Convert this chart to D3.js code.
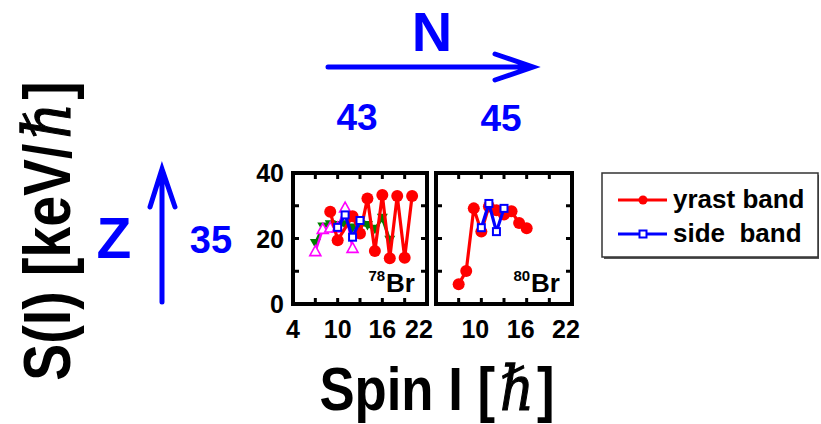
<!DOCTYPE html>
<html><head><meta charset="utf-8">
<script src="https://cdn.jsdelivr.net/npm/d3@7"></script>
<style>body{margin:0;background:#fff}svg{display:block}</style>
</head><body>
<svg id="c" width="821" height="424"></svg>
<script>
// ---- data ----
const xTicksMinor = [7, 10, 13, 16, 19];
const yTicksMinor = [10, 20, 30];
const yTickLabels = [0, 20, 40];
const xTickLabelsLeft = [4, 10, 16, 22];
const xTickLabelsRight = [10, 16, 22];

// 78Br
const br78YrastSpin = [9, 10, 12, 13, 14, 15, 16, 17, 18, 19, 20];
const br78YrastS    = [28.2, 19.5, 26.8, 21.5, 32.2, 16.2, 33.3, 14.0, 33.0, 14.1, 33.0];
const br78SideSpin  = [10, 11, 12, 13];
const br78SideS     = [23.4, 27.2, 20.4, 25.5];
const br78MagSpin   = [7, 8, 9, 10, 11, 12];
const br78MagS      = [16.0, 22.8, 23.2, 23.2, 29.3, 17.0];
const br78GreenSpin = [7, 8, 9, 10, 11, 12, 13, 14, 15, 16, 17];
const br78GreenS    = [18.5, 23.5, 24.2, 24.0, 24.2, 23.2, 24.3, 24.0, 22.8, 26.2, 19.5];

// 80Br
const br80YrastSpin = [7, 8, 9, 10, 11, 12, 13, 14, 15, 16];
const br80YrastS    = [6.0, 10.1, 29.2, 22.1, 29.8, 28.6, 27.3, 28.3, 24.7, 23.1];
const br80SideSpin  = [10, 11, 12, 13];
const br80SideS     = [23.3, 30.7, 22.1, 29.2];

const legendLabels = ["yrast band", "side  band"];

// ---- layout ----
const svg = d3.select("#c");
const y = d3.scaleLinear().domain([0, 40]).range([304, 173]);
const xL = d3.scaleLinear().domain([4, 22]).range([293, 427]);
const xR = d3.scaleLinear().domain([4, 22]).range([436, 572]);
const FONT = "'Liberation Sans', Arial, Helvetica, sans-serif";
const SERIF = "'DejaVu Serif', 'Liberation Serif', serif";

function line(x, xs, ys) {
  return d3.line().x(d => x(d[0])).y(d => y(d[1]))(d3.zip(xs, ys));
}

function panel(x, series, label) {
  const g = svg.append("g");
  const [x0, x1] = x.range(), [y0, y1] = y.range();
  const data = g.append("g");
  series.forEach(s => {
    data.append("path").attr("d", line(x, s.xs, s.ys))
      .attr("fill", "none").attr("stroke", s.color).attr("stroke-width", s.lw)
      .attr("stroke-linejoin", "round");
    const pts = d3.zip(s.xs, s.ys);
    const m = data.append("g").selectAll("g").data(pts).join("g")
      .attr("transform", d => `translate(${x(d[0])},${y(d[1])})`);
    if (s.marker === "circle") {
      m.append("circle").attr("r", 6).attr("fill", s.color);
    } else if (s.marker === "square") {
      m.append("rect").attr("x", -3.5).attr("y", -3.5).attr("width", 7).attr("height", 7)
        .attr("fill", "#fff").attr("stroke", s.color).attr("stroke-width", 2);
    } else if (s.marker === "triUp") {
      m.append("path").attr("d", "M0,-6L5.5,4L-5.5,4Z")
        .attr("fill", "#fff").attr("stroke", s.color).attr("stroke-width", 1.6);
    } else if (s.marker === "triDown") {
      m.append("path").attr("d", "M0,5L5.5,-4.5L-5.5,-4.5Z").attr("fill", s.color);
    }
  });
  const tk = g.append("g").attr("stroke", "#000").attr("stroke-width", 3);
  xTicksMinor.forEach(v => {
    tk.append("line").attr("x1", x(v)).attr("x2", x(v)).attr("y1", y0).attr("y2", y0 - 6);
    tk.append("line").attr("x1", x(v)).attr("x2", x(v)).attr("y1", y1).attr("y2", y1 + 6);
  });
  yTicksMinor.forEach(v => {
    tk.append("line").attr("x1", x0).attr("x2", x0 + 6).attr("y1", y(v)).attr("y2", y(v));
    tk.append("line").attr("x1", x1).attr("x2", x1 - 6).attr("y1", y(v)).attr("y2", y(v));
  });
  g.append("rect").attr("x", x0).attr("y", y1).attr("width", x1 - x0).attr("height", y0 - y1)
    .attr("fill", "none").attr("stroke", "#000").attr("stroke-width", 4);
  // nucleus label: superscript mass number + element symbol
  const br = g.append("text").attr("x", x1 - 12).attr("y", 292).attr("text-anchor", "end")
    .attr("font-family", FONT).attr("font-weight", "bold").attr("font-size", 26).attr("fill", "#000")
    .text(label[1]);
  const bw = br.node().getComputedTextLength();
  g.append("text").attr("x", x1 - 12 - bw - 1).attr("y", 281).attr("text-anchor", "end")
    .attr("font-family", FONT).attr("font-weight", "bold").attr("font-size", 15).attr("fill", "#000")
    .text(label[0]);
}

panel(xL, [
  {xs: br78GreenSpin, ys: br78GreenS, color: "#008000", lw: 3, marker: "triDown"},
  {xs: br78MagSpin, ys: br78MagS, color: "#ff00ff", lw: 2.5, marker: "triUp"},
  {xs: br78YrastSpin, ys: br78YrastS, color: "#ff0000", lw: 3.2, marker: "circle"},
  {xs: br78SideSpin, ys: br78SideS, color: "#0000ff", lw: 3.2, marker: "square"}
], ["78", "Br"]);

panel(xR, [
  {xs: br80YrastSpin, ys: br80YrastS, color: "#ff0000", lw: 3.2, marker: "circle"},
  {xs: br80SideSpin, ys: br80SideS, color: "#0000ff", lw: 3.2, marker: "square"}
], ["80", "Br"]);

// tick labels
const lab = svg.append("g").attr("font-family", FONT).attr("font-weight", "bold")
  .attr("font-size", 25).attr("fill", "#000");
yTickLabels.forEach(v => lab.append("text").attr("x", 284).attr("y", y(v) + 9)
  .attr("text-anchor", "end").text(v));
xTickLabelsLeft.forEach((v, i) => lab.append("text")
  .attr("x", xL(v) + (i === xTickLabelsLeft.length - 1 ? -8 : 0)).attr("y", 338)
  .attr("text-anchor", "middle").text(v));
xTickLabelsRight.forEach(v => lab.append("text").attr("x", xR(v) - 6).attr("y", 338)
  .attr("text-anchor", "middle").text(v));

// axis titles: runs of separate texts, each horizontally condensed by a scale transform
function titleRun(parent, parts, size, squeeze) {
  let cx = 0;
  parts.forEach(p => {
    cx += p.gap || 0;
    const holder = parent.append("g");
    const t = holder.append("text").attr("x", 0).attr("y", 0)
      .attr("font-family", p.serif ? SERIF : FONT)
      .attr("font-weight", p.serif ? "normal" : "bold")
      .attr("font-style", p.serif ? "italic" : "normal")
      .attr("font-size", size).attr("fill", "#000")
      .style("white-space", "pre").text(p.t);
    if (p.serif) t.attr("stroke", "#000").attr("stroke-width", 1.2);
    const w = t.node().getComputedTextLength() * squeeze;
    holder.attr("transform", `translate(${cx},0) scale(${squeeze},1)`);
    cx += w;
  });
  return cx;
}
const xtG = svg.append("g");
const xtW = titleRun(xtG, [{t: "Spin I ["}, {t: "ℏ", serif: true, gap: 5}, {t: "]", gap: 3}], 62, 0.85);
xtG.attr("transform", `translate(${437 - xtW / 2},410)`);

const ytG = svg.append("g");
const ytW = titleRun(ytG, [{t: "S(I) [keV/"}, {t: "ℏ", serif: true, gap: 5}, {t: "]", gap: 3}], 66, 0.84);
ytG.attr("transform", `translate(70,${231 + ytW / 2}) rotate(-90)`);

// N / Z annotations
const blue = "#0000ff";
const ann = svg.append("g").attr("font-family", FONT).attr("font-weight", "bold").attr("fill", blue);
ann.append("text").attr("x", 432).attr("y", 51).attr("text-anchor", "middle").attr("font-size", 56).text("N");
ann.append("text").attr("x", 357).attr("y", 130).attr("text-anchor", "middle").attr("font-size", 37).text("43");
ann.append("text").attr("x", 501).attr("y", 131).attr("text-anchor", "middle").attr("font-size", 37).text("45");
ann.append("text").attr("x", 114).attr("y", 258).attr("text-anchor", "middle").attr("font-size", 57).text("Z");
ann.append("text").attr("x", 211).attr("y", 253).attr("text-anchor", "middle").attr("font-size", 38).text("35");
const arr = svg.append("g").attr("stroke", blue).attr("stroke-width", 5).attr("stroke-linecap", "round")
  .attr("fill", "none");
arr.append("path").attr("d", "M328,67L533,67M495,54L533,67L495,80");
arr.append("path").attr("d", "M162,302L162,169M150,207L162,169L175,207");

// legend
const lg = svg.append("g");
lg.append("rect").attr("x", 604).attr("y", 175).attr("width", 215).attr("height", 84).attr("fill", "#555");
lg.append("rect").attr("x", 602).attr("y", 173).attr("width", 216).attr("height", 84)
  .attr("fill", "#fff").attr("stroke", "#333").attr("stroke-width", 1.5);
const legItems = [
  {color: "#ff0000", marker: "circle", yy: 200},
  {color: "#0000ff", marker: "square", yy: 234}
];
legItems.forEach((it, i) => {
  lg.append("line").attr("x1", 618).attr("x2", 667).attr("y1", it.yy).attr("y2", it.yy)
    .attr("stroke", it.color).attr("stroke-width", 3);
  if (it.marker === "circle") lg.append("circle").attr("cx", 643).attr("cy", it.yy).attr("r", 4.5).attr("fill", it.color);
  else lg.append("rect").attr("x", 639.5).attr("y", it.yy - 3.5).attr("width", 7).attr("height", 7)
    .attr("fill", "#fff").attr("stroke", it.color).attr("stroke-width", 2);
  lg.append("text").attr("x", 673).attr("y", it.yy + 8).attr("font-family", FONT).attr("font-weight", "bold")
    .attr("font-size", 26).attr("fill", "#000").style("white-space", "pre").text(legendLabels[i]);
});
</script>
</body></html>
